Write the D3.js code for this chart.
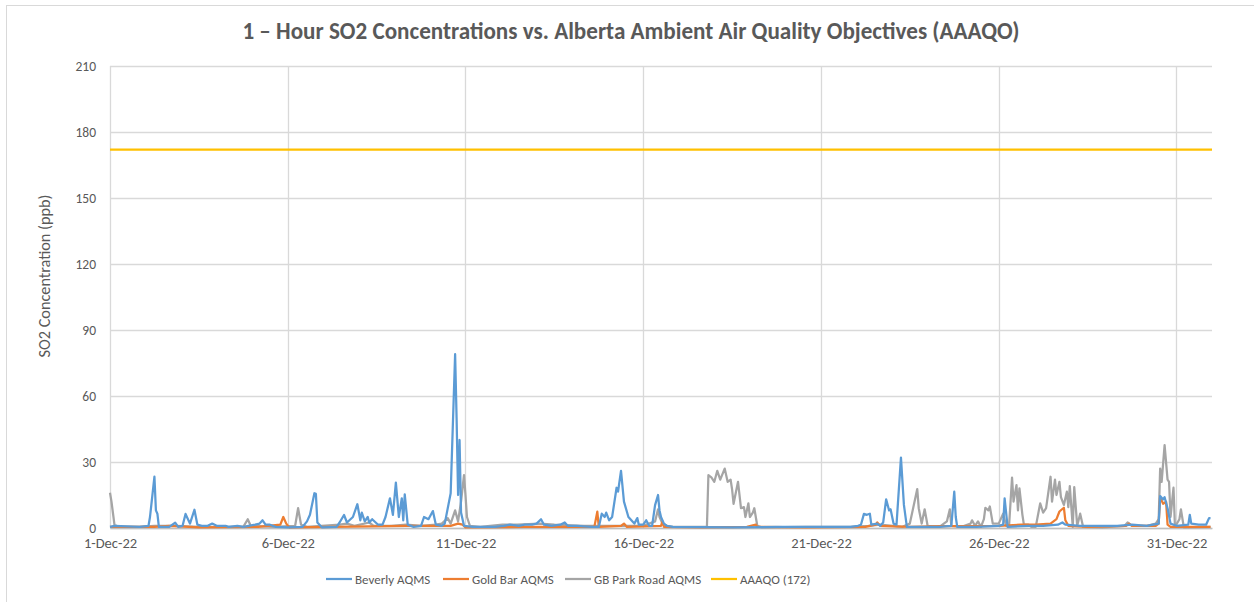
<!DOCTYPE html>
<html>
<head>
<meta charset="utf-8">
<script src="https://cdn.jsdelivr.net/npm/d3@7"></script>
<style>
  body { margin: 0; background: #fff; }
  text { font-family: Calibri, Carlito, Lato, "Open Sans", sans-serif; fill: #595959; }
</style>
</head>
<body>
<svg id="chart"></svg>
<script>
'use strict';
// hourly series, [hour since 1-Dec-22 00:00, ppb]
var beverly = [
  [0,0.5],[3,1],[20,0.5],[26,1],[27.5,5],[30.4,23.3],[31.2,8],[32,6.5],[33.8,0.5],[40,0.5],[44.6,2.4],[46,0.5],
  [49,1],[51.3,6.4],[54,2],[57.2,8.3],[59,1.5],[62,1],[66,1],[69.5,2],[72,1],[78,1],[80,0.5],[86,1],[90,0.5],
  [98,1.5],[101,2],[103,3.5],[105,1.5],[108,1.5],[112,0.5],[120,0.3],[130,0.5],[133,3],[135,6],[138.4,15.8],
  [139.5,15.5],[140.5,2.5],[143,0.3],[153,0.5],[155,2.5],[158.2,5.9],[160.5,2.5],[164.3,5],[167.7,10.8],
  [169,3.5],[170.4,7],[172,3],[174,5],[175.5,2.5],[177.8,4],[181,1.5],[184,1.5],[186.8,5],[189.7,13.5],
  [191.5,6],[193.6,20.6],[195.8,5],[197.4,13.5],[198.7,3.5],[199.9,15.3],[201.5,1.5],[205,0.5],[210,1],
  [212.7,5],[215,4],[218.3,7.7],[220,1.5],[224,1],[226,2],[230,15.8],[233.4,79],[234.3,50],[235,15],
  [236.5,40],[237.8,7],[239.6,1],[245,0.5],[260,0.5],[266,1],[270,1.5],[276,1],[280,1.5],[285,1.5],[288,2],
  [291.5,4],[293,1.5],[298,1],[304,1.5],[307,2.5],[309,1],[315,1],[325,0.5],[330,0.5],[332.7,6.5],[334,5],
  [335.3,7],[337,3.5],[339,5],[342,18.3],[343.5,16.5],[345.7,26],[347.7,12],[350,5],[352,3.5],[354,2],
  [356,4.5],[357.5,1.5],[360,1.5],[362,3.5],[364,1],[366,1],[368.7,10.4],[370.5,15],[371,8],[372.5,5],
  [374,2],[376,1],[380,0.5],[420,0.3],[450,0.5],[480,0.5],[500,0.5],[505,1],[507,1.5],[509.8,6.4],[511,6],
  [513.2,6.5],[514.8,1.5],[518,2],[520,1],[522,2.5],[524.8,13],[526.1,8],[527.8,8.5],[529.3,2],[531,1.5],
  [534.5,32],[536.7,10.5],[538,0.5],[545,0.5],[560,0.5],[568,1],[570,16.5],[571.5,5],[572.5,0.5],[585,0.5],
  [600,1],[603,1.5],[604.8,13.5],[606,0.5],[620,1],[630,1],[640,1.5],[643,2.5],[645,1.5],[655,1],[680,1],
  [690,1.5],[700,1],[708,2],[709.7,14.5],[711,13],[712.5,14],[714,9],[716,2],[720,1],[728,1.5],[729,6],
  [730.5,2],[735,1.5],[740,1.5],[742.8,4.5],[743,4.5]
];
var goldBar = [
  [0,0.5],[30,0.5],[40,1],[60,0.3],[100,0.5],[115,1.5],[117.5,5],[119,2],[121,0.3],[150,0.5],[200,1],
  [230,1],[235,2],[238,1.5],[240,0.3],[280,0.5],[327,0.5],[329.3,7.4],[330.5,0.5],[345,1],[347,2],
  [349,0.5],[372,1],[373,3],[374,0.5],[400,0.3],[430,0.5],[436,1.5],[437,0.5],[470,0.3],[510,0.5],
  [517,1.5],[518.8,2.5],[520,1],[540,0.5],[560,0.8],[600,1],[615,1.5],[625,1.5],[635,2],[639,4],
  [641,7.5],[644,9.2],[645.5,3.5],[647,1],[660,0.5],[686,1],[688,2],[690,1],[706,1],[708,2],[709.7,14],
  [711,11],[713,12],[714.5,1.5],[716,0.5],[743,0.5]
];
var gbPark = [
  [0,16],[1,12],[3.4,1.5],[6,0.5],[20,0.5],[30,1],[45,1],[60,0.5],[90,0.5],[93.4,4],[95,1],[110,0.5],
  [125,1],[127.6,9],[129,1.5],[133,0.5],[155,1.5],[160,2],[165,1],[175,2.5],[178,1],[190,1],[200,1.5],
  [210,1],[220,1.5],[224,2],[228.4,4.5],[230,2],[233,8],[235,3],[237.5,12],[239.7,24],[240.5,15],[241,5],
  [243,1],[250,0.5],[265,1.5],[275,1.5],[290,2],[300,1.5],[320,1],[340,1],[360,1],[368,3],[370,8.5],
  [371.5,5],[373,2],[376,1],[380,0.5],[403,0.5],[404.6,24],[406,23],[408,21],[410.6,26],[412.5,22],
  [415.3,27],[417,21],[419,22],[420,17.5],[421.7,11],[424.2,21],[426,9],[428,9.5],[429,5],[431,11.2],
  [432.5,5],[434,7],[435.5,9],[437,1],[440,0.3],[470,0.5],[500,0.5],[512,1],[520,1.5],[535,0.5],[540,2],
  [545,17.7],[546.8,9],[548.5,2],[550.3,8.5],[552,1],[560,0.5],[565,3],[567,8.5],[568.8,1],[575,0.5],
  [581,2],[582.5,3.5],[584,1],[586,3],[588,0.5],[590,4],[591.5,9.2],[593,8],[594.8,9.8],[596.8,2],
  [600,2],[603.1,6.5],[605,1],[607,1],[609.3,22.9],[610.7,12],[612.2,19.5],[613.6,8],[614.9,18],
  [616.2,6],[617.8,1.5],[620,1.5],[622,0.5],[625,0.5],[628.6,11.2],[630.9,7],[632,9],[635.2,23.3],
  [636.5,12],[638,22],[639.5,15],[641.1,21],[642.5,14],[644.5,10.5],[646,16.5],[647,9.5],[648.9,19],
  [650.2,0.5],[651.6,18.6],[653,1],[655.3,6.5],[657.5,0.5],[670,0.3],[685,1],[687.6,2.5],[690,1],
  [700,1],[706,2],[708.1,4],[709,27],[710.5,21],[712.3,37.7],[714,22],[715,21],[716.5,5],[718.1,18.3],
  [719.6,0.5],[722,4],[723.6,8.5],[725,0.3],[743,0.5]
];
var objective = 172;
var seriesNames = ['Beverly AQMS', 'Gold Bar AQMS', 'GB Park Road AQMS', 'AAAQO (172)'];
var seriesColors = ['#5B9BD5', '#ED7D31', '#A5A5A5', '#FFC000'];
var yTicks = [0, 30, 60, 90, 120, 150, 180, 210];
var xTickDays = [1, 6, 11, 16, 21, 26, 31];

var canvasWidth = 1254, canvasHeight = 602;
var margin = { top: 66, right: 42, bottom: 74, left: 110 };
var width = canvasWidth - margin.left - margin.right;
var height = canvasHeight - margin.top - margin.bottom;

var svg = d3.select('#chart').attr('width', canvasWidth).attr('height', canvasHeight);

// squeeze/stretch a text to the width seen in the reference
function fitWidth(sel, target) {
  var node = sel.node();
  var size = parseFloat(sel.attr('font-size'));
  var len = node.getComputedTextLength();
  sel.attr('font-size', (size * target / len).toFixed(2) + 'px');
}

// chart frame
svg.append('rect')
  .attr('x', 6.5).attr('y', 5.5).attr('width', 1260).attr('height', 620)
  .attr('fill', 'none').attr('stroke', '#d9d9d9');

var g = svg.append('g').attr('transform', 'translate(' + margin.left + ',' + margin.top + ')');

var start = new Date(2022, 11, 1);
var end = new Date(2023, 0, 1);
var xScale = d3.scaleTime().domain([start, end]).range([0, width]);
var yScale = d3.scaleLinear().domain([0, 210]).range([height, 0]);
function hourDate(h) { return d3.timeHour.offset(start, h); }

// gridlines
g.append('g').selectAll('line').data(yTicks).enter().append('line')
  .attr('x1', 0).attr('x2', width)
  .attr('y1', function(d){ return Math.round(yScale(d)) + 0.5; })
  .attr('y2', function(d){ return Math.round(yScale(d)) + 0.5; })
  .attr('stroke', '#d9d9d9').attr('stroke-width', 1.3);
g.append('g').selectAll('line').data(xTickDays).enter().append('line')
  .attr('x1', function(d){ return Math.round(xScale(new Date(2022, 11, d))) + 0.5; })
  .attr('x2', function(d){ return Math.round(xScale(new Date(2022, 11, d))) + 0.5; })
  .attr('y1', 0).attr('y2', height)
  .attr('stroke', '#d9d9d9').attr('stroke-width', 1.3);

// axes
var yAxis = g.append('g').call(d3.axisLeft(yScale).tickValues(yTicks).tickSize(0).tickPadding(14));
yAxis.select('.domain').remove();
yAxis.selectAll('text').attr('font-size', '13.5px').style('fill', '#595959')
  .style('font-family', 'Calibri, Carlito, Lato, "Open Sans", sans-serif');

var xAxis = g.append('g').attr('transform', 'translate(0,' + height + ')')
  .call(d3.axisBottom(xScale)
    .tickValues(xTickDays.map(function(d){ return new Date(2022, 11, d); }))
    .tickFormat(d3.timeFormat('%-d-%b-%y')).tickSize(0).tickPadding(10));
xAxis.select('.domain').attr('stroke', '#bfbfbf').attr('stroke-width', 1.3);
xAxis.selectAll('text').attr('font-size', '14.5px').style('fill', '#595959')
  .style('font-family', 'Calibri, Carlito, Lato, "Open Sans", sans-serif');

// series
var line = d3.line()
  .x(function(d){ return xScale(hourDate(d[0])); })
  .y(function(d){ return yScale(d[1]); });
var allSeries = [gbPark, goldBar, beverly];
var allColors = [seriesColors[2], seriesColors[1], seriesColors[0]];
allSeries.forEach(function(s, i) {
  g.append('path').datum(s)
    .attr('d', line).attr('fill', 'none')
    .attr('stroke', allColors[i]).attr('stroke-width', 2.25)
    .attr('stroke-linejoin', 'round');
});
g.append('line')
  .attr('x1', 0).attr('x2', width)
  .attr('y1', yScale(objective)).attr('y2', yScale(objective))
  .attr('stroke', seriesColors[3]).attr('stroke-width', 2.25);

// title
var title = svg.append('text')
  .attr('x', 631).attr('y', 39).attr('text-anchor', 'middle')
  .attr('font-size', '19px').attr('font-weight', 'bold')
  .text('1 \u2013 Hour SO2 Concentrations vs. Alberta Ambient Air Quality Objectives (AAAQO)');
fitWidth(title, 777);

// y label
var yLabel = svg.append('text')
  .attr('transform', 'translate(50,276) rotate(-90)')
  .attr('text-anchor', 'middle').attr('font-size', '13px')
  .text('SO2 Concentration (ppb)');
fitWidth(yLabel, 163);

// legend
var legendX = [326, 443, 565, 711];
var legend = svg.append('g').selectAll('g').data(seriesNames).enter().append('g')
  .attr('transform', function(d, i){ return 'translate(' + legendX[i] + ',579)'; });
legend.append('line').attr('x1', 0).attr('x2', 26).attr('y1', 0).attr('y2', 0)
  .attr('stroke', function(d, i){ return seriesColors[i]; }).attr('stroke-width', 2.25);
legend.append('text').attr('x', 29).attr('y', 4.5).attr('font-size', '13px')
  .text(function(d){ return d; });
</script>
</body>
</html>
